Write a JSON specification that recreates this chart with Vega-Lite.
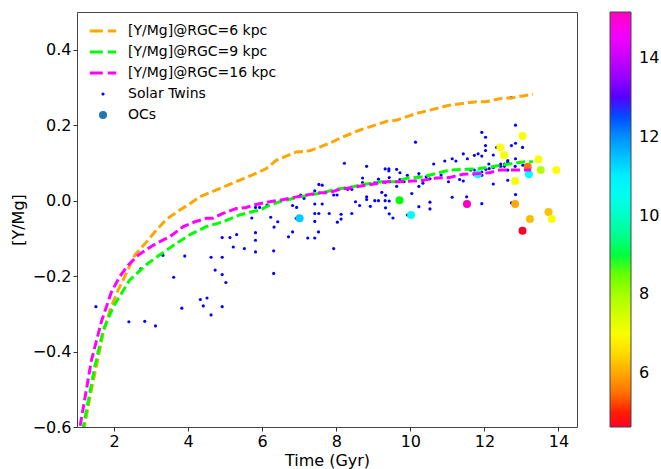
{
  "$schema": "https://vega.github.io/schema/vega-lite/v6.json",
  "autosize": {"type": "none"},
  "padding": {"left": 77, "top": 12, "right": 84, "bottom": 42},
  "width": 500,
  "height": 415,
  "background": "white",
  "config": {
    "font": "DejaVu Sans",
    "view": {"stroke": "#444", "strokeWidth": 1},
    "axis": {"grid": false, "domain": false, "tickColor": "#333", "tickSize": 4, "labelColor": "#000", "titleColor": "#000", "labelFontSize": 16, "titleFontSize": 16, "titleFontWeight": "normal", "labelFont": "DejaVu Sans", "titleFont": "DejaVu Sans"},
    "legend": {"labelFont": "DejaVu Sans", "labelColor": "#000"}
  },
  "datasets": {
    "lines": [
      {"t": 1.13, "v": -0.68, "series": "[Y/Mg]@RGC=6 kpc"},
      {"t": 1.20, "v": -0.60, "series": "[Y/Mg]@RGC=6 kpc"},
      {"t": 1.35, "v": -0.52, "series": "[Y/Mg]@RGC=6 kpc"},
      {"t": 1.52, "v": -0.44, "series": "[Y/Mg]@RGC=6 kpc"},
      {"t": 1.71, "v": -0.35, "series": "[Y/Mg]@RGC=6 kpc"},
      {"t": 1.89, "v": -0.29, "series": "[Y/Mg]@RGC=6 kpc"},
      {"t": 2.11, "v": -0.237, "series": "[Y/Mg]@RGC=6 kpc"},
      {"t": 2.33, "v": -0.193, "series": "[Y/Mg]@RGC=6 kpc"},
      {"t": 2.56, "v": -0.144, "series": "[Y/Mg]@RGC=6 kpc"},
      {"t": 2.88, "v": -0.109, "series": "[Y/Mg]@RGC=6 kpc"},
      {"t": 3.10, "v": -0.083, "series": "[Y/Mg]@RGC=6 kpc"},
      {"t": 3.41, "v": -0.05, "series": "[Y/Mg]@RGC=6 kpc"},
      {"t": 3.74, "v": -0.027, "series": "[Y/Mg]@RGC=6 kpc"},
      {"t": 3.99, "v": -0.012, "series": "[Y/Mg]@RGC=6 kpc"},
      {"t": 4.31, "v": 0.01, "series": "[Y/Mg]@RGC=6 kpc"},
      {"t": 4.85, "v": 0.032, "series": "[Y/Mg]@RGC=6 kpc"},
      {"t": 5.29, "v": 0.05, "series": "[Y/Mg]@RGC=6 kpc"},
      {"t": 5.74, "v": 0.068, "series": "[Y/Mg]@RGC=6 kpc"},
      {"t": 6.11, "v": 0.085, "series": "[Y/Mg]@RGC=6 kpc"},
      {"t": 6.38, "v": 0.107, "series": "[Y/Mg]@RGC=6 kpc"},
      {"t": 6.92, "v": 0.129, "series": "[Y/Mg]@RGC=6 kpc"},
      {"t": 7.28, "v": 0.132, "series": "[Y/Mg]@RGC=6 kpc"},
      {"t": 7.55, "v": 0.142, "series": "[Y/Mg]@RGC=6 kpc"},
      {"t": 7.90, "v": 0.156, "series": "[Y/Mg]@RGC=6 kpc"},
      {"t": 8.09, "v": 0.165, "series": "[Y/Mg]@RGC=6 kpc"},
      {"t": 8.63, "v": 0.187, "series": "[Y/Mg]@RGC=6 kpc"},
      {"t": 9.39, "v": 0.211, "series": "[Y/Mg]@RGC=6 kpc"},
      {"t": 9.62, "v": 0.213, "series": "[Y/Mg]@RGC=6 kpc"},
      {"t": 10.16, "v": 0.231, "series": "[Y/Mg]@RGC=6 kpc"},
      {"t": 10.61, "v": 0.242, "series": "[Y/Mg]@RGC=6 kpc"},
      {"t": 11.05, "v": 0.253, "series": "[Y/Mg]@RGC=6 kpc"},
      {"t": 11.78, "v": 0.262, "series": "[Y/Mg]@RGC=6 kpc"},
      {"t": 12.04, "v": 0.262, "series": "[Y/Mg]@RGC=6 kpc"},
      {"t": 12.50, "v": 0.272, "series": "[Y/Mg]@RGC=6 kpc"},
      {"t": 12.72, "v": 0.272, "series": "[Y/Mg]@RGC=6 kpc"},
      {"t": 13.31, "v": 0.282, "series": "[Y/Mg]@RGC=6 kpc"},
      {"t": 1.12, "v": -0.68, "series": "[Y/Mg]@RGC=9 kpc"},
      {"t": 1.17, "v": -0.60, "series": "[Y/Mg]@RGC=9 kpc"},
      {"t": 1.48, "v": -0.44, "series": "[Y/Mg]@RGC=9 kpc"},
      {"t": 1.71, "v": -0.343, "series": "[Y/Mg]@RGC=9 kpc"},
      {"t": 1.98, "v": -0.281, "series": "[Y/Mg]@RGC=9 kpc"},
      {"t": 2.20, "v": -0.246, "series": "[Y/Mg]@RGC=9 kpc"},
      {"t": 2.42, "v": -0.211, "series": "[Y/Mg]@RGC=9 kpc"},
      {"t": 2.66, "v": -0.189, "series": "[Y/Mg]@RGC=9 kpc"},
      {"t": 2.92, "v": -0.166, "series": "[Y/Mg]@RGC=9 kpc"},
      {"t": 3.23, "v": -0.144, "series": "[Y/Mg]@RGC=9 kpc"},
      {"t": 3.69, "v": -0.113, "series": "[Y/Mg]@RGC=9 kpc"},
      {"t": 4.05, "v": -0.09, "series": "[Y/Mg]@RGC=9 kpc"},
      {"t": 4.49, "v": -0.069, "series": "[Y/Mg]@RGC=9 kpc"},
      {"t": 4.94, "v": -0.056, "series": "[Y/Mg]@RGC=9 kpc"},
      {"t": 5.39, "v": -0.038, "series": "[Y/Mg]@RGC=9 kpc"},
      {"t": 5.70, "v": -0.030, "series": "[Y/Mg]@RGC=9 kpc"},
      {"t": 5.93, "v": -0.025, "series": "[Y/Mg]@RGC=9 kpc"},
      {"t": 6.20, "v": -0.012, "series": "[Y/Mg]@RGC=9 kpc"},
      {"t": 6.47, "v": -0.003, "series": "[Y/Mg]@RGC=9 kpc"},
      {"t": 7.01, "v": 0.010, "series": "[Y/Mg]@RGC=9 kpc"},
      {"t": 7.28, "v": 0.015, "series": "[Y/Mg]@RGC=9 kpc"},
      {"t": 7.63, "v": 0.021, "series": "[Y/Mg]@RGC=9 kpc"},
      {"t": 8.00, "v": 0.030, "series": "[Y/Mg]@RGC=9 kpc"},
      {"t": 8.45, "v": 0.037, "series": "[Y/Mg]@RGC=9 kpc"},
      {"t": 8.81, "v": 0.044, "series": "[Y/Mg]@RGC=9 kpc"},
      {"t": 9.22, "v": 0.050, "series": "[Y/Mg]@RGC=9 kpc"},
      {"t": 9.62, "v": 0.050, "series": "[Y/Mg]@RGC=9 kpc"},
      {"t": 9.93, "v": 0.060, "series": "[Y/Mg]@RGC=9 kpc"},
      {"t": 10.34, "v": 0.063, "series": "[Y/Mg]@RGC=9 kpc"},
      {"t": 10.70, "v": 0.072, "series": "[Y/Mg]@RGC=9 kpc"},
      {"t": 11.05, "v": 0.081, "series": "[Y/Mg]@RGC=9 kpc"},
      {"t": 11.51, "v": 0.083, "series": "[Y/Mg]@RGC=9 kpc"},
      {"t": 11.87, "v": 0.085, "series": "[Y/Mg]@RGC=9 kpc"},
      {"t": 12.28, "v": 0.091, "series": "[Y/Mg]@RGC=9 kpc"},
      {"t": 12.72, "v": 0.098, "series": "[Y/Mg]@RGC=9 kpc"},
      {"t": 13.08, "v": 0.103, "series": "[Y/Mg]@RGC=9 kpc"},
      {"t": 13.31, "v": 0.103, "series": "[Y/Mg]@RGC=9 kpc"},
      {"t": 1.00, "v": -0.70, "series": "[Y/Mg]@RGC=16 kpc"},
      {"t": 1.08, "v": -0.60, "series": "[Y/Mg]@RGC=16 kpc"},
      {"t": 1.39, "v": -0.423, "series": "[Y/Mg]@RGC=16 kpc"},
      {"t": 1.67, "v": -0.317, "series": "[Y/Mg]@RGC=16 kpc"},
      {"t": 1.93, "v": -0.242, "series": "[Y/Mg]@RGC=16 kpc"},
      {"t": 2.15, "v": -0.202, "series": "[Y/Mg]@RGC=16 kpc"},
      {"t": 2.38, "v": -0.171, "series": "[Y/Mg]@RGC=16 kpc"},
      {"t": 2.66, "v": -0.144, "series": "[Y/Mg]@RGC=16 kpc"},
      {"t": 2.92, "v": -0.127, "series": "[Y/Mg]@RGC=16 kpc"},
      {"t": 3.15, "v": -0.113, "series": "[Y/Mg]@RGC=16 kpc"},
      {"t": 3.50, "v": -0.096, "series": "[Y/Mg]@RGC=16 kpc"},
      {"t": 3.87, "v": -0.069, "series": "[Y/Mg]@RGC=16 kpc"},
      {"t": 4.18, "v": -0.056, "series": "[Y/Mg]@RGC=16 kpc"},
      {"t": 4.49, "v": -0.047, "series": "[Y/Mg]@RGC=16 kpc"},
      {"t": 4.66, "v": -0.047, "series": "[Y/Mg]@RGC=16 kpc"},
      {"t": 4.94, "v": -0.034, "series": "[Y/Mg]@RGC=16 kpc"},
      {"t": 5.30, "v": -0.021, "series": "[Y/Mg]@RGC=16 kpc"},
      {"t": 5.57, "v": -0.018, "series": "[Y/Mg]@RGC=16 kpc"},
      {"t": 5.84, "v": -0.010, "series": "[Y/Mg]@RGC=16 kpc"},
      {"t": 6.20, "v": -0.003, "series": "[Y/Mg]@RGC=16 kpc"},
      {"t": 6.47, "v": 0.001, "series": "[Y/Mg]@RGC=16 kpc"},
      {"t": 6.82, "v": 0.008, "series": "[Y/Mg]@RGC=16 kpc"},
      {"t": 7.19, "v": 0.015, "series": "[Y/Mg]@RGC=16 kpc"},
      {"t": 7.55, "v": 0.021, "series": "[Y/Mg]@RGC=16 kpc"},
      {"t": 7.81, "v": 0.021, "series": "[Y/Mg]@RGC=16 kpc"},
      {"t": 8.09, "v": 0.030, "series": "[Y/Mg]@RGC=16 kpc"},
      {"t": 8.45, "v": 0.035, "series": "[Y/Mg]@RGC=16 kpc"},
      {"t": 8.81, "v": 0.041, "series": "[Y/Mg]@RGC=16 kpc"},
      {"t": 9.13, "v": 0.046, "series": "[Y/Mg]@RGC=16 kpc"},
      {"t": 9.35, "v": 0.050, "series": "[Y/Mg]@RGC=16 kpc"},
      {"t": 9.71, "v": 0.050, "series": "[Y/Mg]@RGC=16 kpc"},
      {"t": 10.06, "v": 0.052, "series": "[Y/Mg]@RGC=16 kpc"},
      {"t": 10.34, "v": 0.054, "series": "[Y/Mg]@RGC=16 kpc"},
      {"t": 10.70, "v": 0.060, "series": "[Y/Mg]@RGC=16 kpc"},
      {"t": 11.05, "v": 0.061, "series": "[Y/Mg]@RGC=16 kpc"},
      {"t": 11.42, "v": 0.070, "series": "[Y/Mg]@RGC=16 kpc"},
      {"t": 11.87, "v": 0.072, "series": "[Y/Mg]@RGC=16 kpc"},
      {"t": 12.13, "v": 0.074, "series": "[Y/Mg]@RGC=16 kpc"},
      {"t": 12.41, "v": 0.081, "series": "[Y/Mg]@RGC=16 kpc"},
      {"t": 12.86, "v": 0.081, "series": "[Y/Mg]@RGC=16 kpc"},
      {"t": 13.26, "v": 0.081, "series": "[Y/Mg]@RGC=16 kpc"}
    ],
    "twins": [
      {"t": 1.51, "v": -0.281}, {"t": 2.72, "v": -0.181}, {"t": 2.40, "v": -0.321}, {"t": 2.83, "v": -0.320},
      {"t": 3.12, "v": -0.332}, {"t": 3.32, "v": -0.145}, {"t": 3.91, "v": -0.147}, {"t": 3.61, "v": -0.203},
      {"t": 3.83, "v": -0.285}, {"t": 4.33, "v": -0.262}, {"t": 4.51, "v": -0.258}, {"t": 4.41, "v": -0.279},
      {"t": 4.62, "v": -0.303}, {"t": 4.92, "v": -0.281}, {"t": 4.62, "v": -0.150}, {"t": 4.92, "v": -0.150},
      {"t": 4.73, "v": -0.184}, {"t": 4.92, "v": -0.196}, {"t": 5.02, "v": -0.217}, {"t": 4.92, "v": -0.098},
      {"t": 5.13, "v": -0.098}, {"t": 5.31, "v": -0.090}, {"t": 5.22, "v": -0.123}, {"t": 5.52, "v": -0.127},
      {"t": 5.82, "v": -0.136}, {"t": 5.82, "v": -0.105}, {"t": 5.82, "v": -0.085}, {"t": 5.72, "v": -0.046},
      {"t": 5.82, "v": -0.018}, {"t": 5.93, "v": -0.018}, {"t": 6.13, "v": -0.012}, {"t": 6.23, "v": -0.044},
      {"t": 6.42, "v": -0.056}, {"t": 6.32, "v": -0.070}, {"t": 6.31, "v": -0.133}, {"t": 6.31, "v": -0.193},
      {"t": 6.71, "v": -0.096}, {"t": 7.53, "v": 0.043}, {"t": 7.62, "v": 0.041}, {"t": 7.42, "v": 0.026},
      {"t": 7.04, "v": 0.015}, {"t": 7.13, "v": 0.006}, {"t": 7.93, "v": 0.015}, {"t": 8.02, "v": 0.015},
      {"t": 6.82, "v": -0.013}, {"t": 6.93, "v": -0.018}, {"t": 7.42, "v": -0.009}, {"t": 7.62, "v": -0.009},
      {"t": 6.82, "v": -0.083}, {"t": 6.92, "v": -0.047}, {"t": 7.42, "v": -0.034}, {"t": 7.53, "v": -0.034},
      {"t": 7.81, "v": -0.034}, {"t": 7.42, "v": -0.055}, {"t": 8.03, "v": -0.057}, {"t": 7.52, "v": -0.083},
      {"t": 7.23, "v": -0.099}, {"t": 7.42, "v": -0.099}, {"t": 7.93, "v": -0.127}, {"t": 10.14, "v": 0.155},
      {"t": 8.22, "v": 0.099}, {"t": 8.82, "v": 0.091}, {"t": 9.32, "v": 0.084}, {"t": 9.42, "v": 0.084},
      {"t": 9.42, "v": 0.079}, {"t": 9.63, "v": 0.083}, {"t": 9.72, "v": 0.074}, {"t": 9.43, "v": 0.061},
      {"t": 9.92, "v": 0.067}, {"t": 10.23, "v": 0.072}, {"t": 10.63, "v": 0.097}, {"t": 8.71, "v": 0.060},
      {"t": 8.71, "v": 0.048}, {"t": 9.14, "v": 0.057}, {"t": 9.04, "v": 0.047}, {"t": 9.32, "v": 0.049},
      {"t": 9.72, "v": 0.056}, {"t": 9.83, "v": 0.050}, {"t": 10.23, "v": 0.063}, {"t": 10.34, "v": 0.052},
      {"t": 10.34, "v": 0.046}, {"t": 10.53, "v": 0.058}, {"t": 10.43, "v": 0.063}, {"t": 9.63, "v": 0.038},
      {"t": 10.23, "v": 0.038}, {"t": 10.04, "v": 0.019}, {"t": 8.31, "v": 0.030}, {"t": 8.42, "v": 0.030},
      {"t": 9.23, "v": 0.022}, {"t": 9.33, "v": 0.014}, {"t": 8.52, "v": -0.003}, {"t": 8.63, "v": -0.013},
      {"t": 8.92, "v": -0.015}, {"t": 9.04, "v": 0.0}, {"t": 9.14, "v": 0.0}, {"t": 9.32, "v": 0.0},
      {"t": 9.43, "v": -0.001}, {"t": 9.33, "v": -0.019}, {"t": 9.43, "v": -0.035}, {"t": 9.53, "v": -0.046},
      {"t": 8.82, "v": 0.010}, {"t": 8.82, "v": 0.003}, {"t": 8.13, "v": -0.036}, {"t": 8.13, "v": -0.049},
      {"t": 8.42, "v": -0.034}, {"t": 10.53, "v": -0.004}, {"t": 10.53, "v": -0.022}, {"t": 10.23, "v": -0.016},
      {"t": 9.92, "v": -0.038}, {"t": 12.72, "v": 0.273}, {"t": 12.84, "v": 0.200}, {"t": 11.93, "v": 0.181},
      {"t": 12.03, "v": 0.168}, {"t": 12.84, "v": 0.152}, {"t": 12.73, "v": 0.146}, {"t": 13.03, "v": 0.141},
      {"t": 12.03, "v": 0.146}, {"t": 12.03, "v": 0.133}, {"t": 11.43, "v": 0.124}, {"t": 11.73, "v": 0.120},
      {"t": 11.83, "v": 0.124}, {"t": 11.93, "v": 0.118}, {"t": 12.24, "v": 0.121}, {"t": 11.54, "v": 0.111},
      {"t": 10.93, "v": 0.105}, {"t": 11.13, "v": 0.111}, {"t": 11.23, "v": 0.105}, {"t": 12.33, "v": 0.141},
      {"t": 12.63, "v": 0.106}, {"t": 12.84, "v": 0.111}, {"t": 12.63, "v": 0.102}, {"t": 12.44, "v": 0.097},
      {"t": 12.54, "v": 0.097}, {"t": 12.12, "v": 0.097}, {"t": 12.44, "v": 0.091}, {"t": 12.54, "v": 0.091},
      {"t": 12.24, "v": 0.088}, {"t": 12.63, "v": 0.081}, {"t": 12.04, "v": 0.083}, {"t": 12.13, "v": 0.085},
      {"t": 11.63, "v": 0.081}, {"t": 11.73, "v": 0.081}, {"t": 11.73, "v": 0.069}, {"t": 11.93, "v": 0.076},
      {"t": 11.93, "v": 0.067}, {"t": 13.04, "v": 0.094}, {"t": 12.83, "v": 0.091}, {"t": 10.83, "v": 0.068},
      {"t": 11.03, "v": 0.050}, {"t": 11.33, "v": 0.056}, {"t": 11.43, "v": 0.052}, {"t": 12.63, "v": 0.054},
      {"t": 12.24, "v": 0.044}, {"t": 11.13, "v": 0.009}, {"t": 11.52, "v": 0.010}, {"t": 11.93, "v": -0.008},
      {"t": 12.84, "v": 0.016}, {"t": 12.73, "v": -0.006}
    ],
    "ocs": [
      {"t": 7.01, "v": -0.047, "rgc": 11.4},
      {"t": 9.71, "v": 0.001, "rgc": 8.85},
      {"t": 10.02, "v": -0.038, "rgc": 10.5},
      {"t": 11.53, "v": -0.009, "rgc": 15.17},
      {"t": 11.82, "v": 0.070, "rgc": 10.8},
      {"t": 12.43, "v": 0.141, "rgc": 6.9},
      {"t": 12.53, "v": 0.120, "rgc": 7.0},
      {"t": 13.03, "v": 0.171, "rgc": 7.0},
      {"t": 12.83, "v": 0.052, "rgc": 7.0},
      {"t": 13.17, "v": 0.090, "rgc": 5.5},
      {"t": 13.20, "v": 0.070, "rgc": 10.7},
      {"t": 13.46, "v": 0.110, "rgc": 7.0},
      {"t": 13.52, "v": 0.081, "rgc": 7.8},
      {"t": 13.94, "v": 0.081, "rgc": 6.9},
      {"t": 12.83, "v": -0.009, "rgc": 6.0},
      {"t": 13.23, "v": -0.049, "rgc": 6.2},
      {"t": 13.73, "v": -0.030, "rgc": 6.25},
      {"t": 13.82, "v": -0.049, "rgc": 7.0},
      {"t": 13.03, "v": -0.080, "rgc": 4.63}
    ]
  },
  "layer": [
    {
      "data": {"name": "twins"},
      "transform": [{"calculate": "'Solar Twins'", "as": "series"}],
      "mark": {"type": "circle", "size": 10, "fill": "#0000ff", "opacity": 1, "strokeWidth": 0},
      "encoding": {
        "x": {"field": "t", "type": "quantitative"},
        "y": {"field": "v", "type": "quantitative"},
        "stroke": {"field": "series", "type": "nominal"}
      }
    },
    {
      "data": {"name": "ocs"},
      "transform": [{"calculate": "'OCs'", "as": "series"}],
      "mark": {"type": "circle", "size": 64, "opacity": 1, "strokeWidth": 0},
      "encoding": {
        "x": {"field": "t", "type": "quantitative"},
        "y": {"field": "v", "type": "quantitative"},
        "stroke": {"field": "series", "type": "nominal"},
        "fill": {
          "field": "rgc", "type": "quantitative",
          "scale": {
            "domain": [4.63, 4.946, 6.897, 8.848, 10.810, 12.751, 14.691, 15.17],
            "range": ["#ff0029", "#ff0000", "#ffff00", "#00ff00", "#00ffff", "#0000ff", "#ff00ff", "#ff00bf"]
          },
          "legend": {
            "orient": "none", "legendX": 533, "legendY": 0, "title": null, "direction": "vertical",
            "gradientLength": 415, "gradientThickness": 21, "gradientStrokeColor": "#444", "gradientStrokeWidth": 1,
            "values": [6, 8, 10, 12, 14], "format": "d", "labelFontSize": 16, "labelOffset": 8, "labelOverlap": false, "padding": 0
          }
        }
      }
    },
    {
      "data": {"name": "lines"},
      "mark": {"type": "line", "strokeWidth": 3, "strokeDash": [9, 4], "clip": true},
      "encoding": {
        "x": {
          "field": "t", "type": "quantitative",
          "scale": {"domain": [1, 14.5], "nice": false, "zero": false},
          "axis": {"values": [2, 4, 6, 8, 10, 12, 14], "format": "d", "title": "Time (Gyr)", "labelPadding": 2, "titlePadding": 3}
        },
        "y": {
          "field": "v", "type": "quantitative",
          "scale": {"domain": [-0.6, 0.5], "nice": false, "zero": false},
          "axis": {"values": [-0.6, -0.4, -0.2, 0.0, 0.2, 0.4], "format": ".1f", "title": "[Y/Mg]", "labelPadding": 2, "titlePadding": 6}
        },
        "stroke": {
          "field": "series", "type": "nominal",
          "scale": {
            "domain": ["[Y/Mg]@RGC=6 kpc", "[Y/Mg]@RGC=9 kpc", "[Y/Mg]@RGC=16 kpc", "Solar Twins", "OCs"],
            "range": ["#ffa500", "#00ff00", "#ff00ff", "#0000ff", "#1f77b4"]
          },
          "legend": {
            "orient": "none", "legendX": 19, "legendY": 12, "title": null, "padding": 0,
            "symbolSize": 700, "labelFontSize": 14, "labelOffset": 18, "rowPadding": 7,
            "encode": {
              "symbols": {
                "update": {
                  "shape": {"signal": "datum.value === 'Solar Twins' || datum.value === 'OCs' ? 'circle' : 'stroke'"},
                  "size": {"signal": "datum.value === 'Solar Twins' ? 10 : datum.value === 'OCs' ? 64 : 700"},
                  "strokeWidth": {"signal": "datum.value === 'Solar Twins' || datum.value === 'OCs' ? 0 : 3"},
                  "fill": {"signal": "datum.value === 'Solar Twins' ? '#0000ff' : datum.value === 'OCs' ? '#1f77b4' : 'transparent'"},
                  "strokeDash": {"value": [13, 5]},
                  "opacity": {"value": 1}
                }
              }
            }
          }
        }
      }
    }
  ]
}
